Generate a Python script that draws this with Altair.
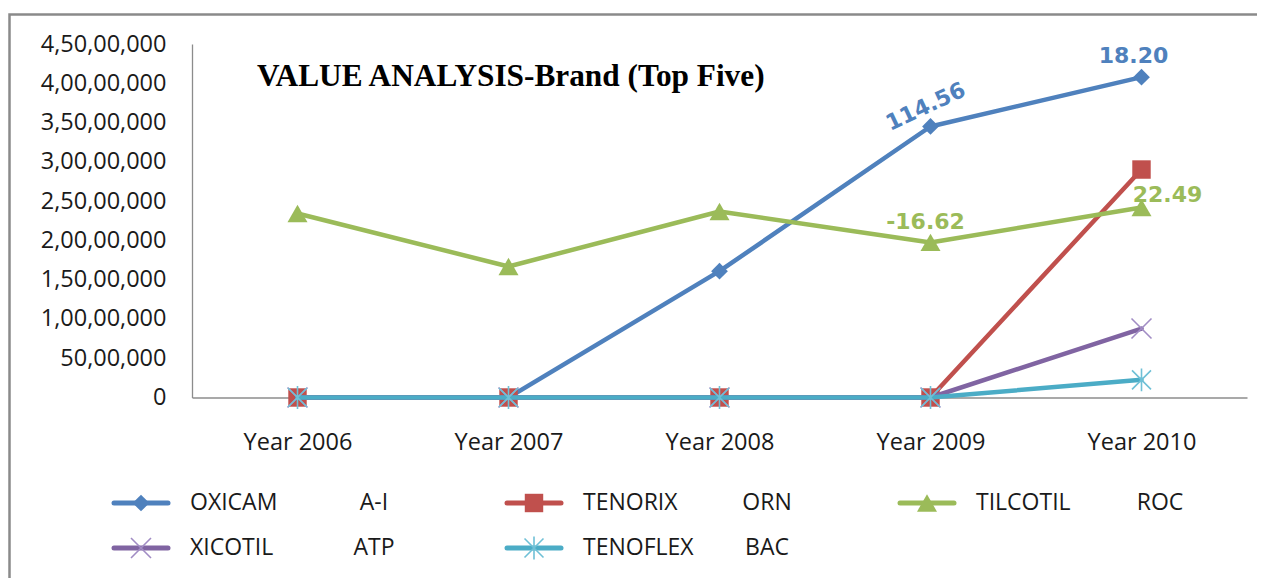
import altair as alt
import pandas as pd

# ---------------- data ----------------
years = ["Year 2006", "Year 2007", "Year 2008", "Year 2009", "Year 2010"]
brands = ["OXICAM", "TENORIX", "TILCOTIL", "XICOTIL", "TENOFLEX"]
companies = ["A-I", "ORN", "ROC", "ATP", "BAC"]

oxicam = [0, 0, 16080000, 34500000, 40780000]
tenorix = [0, 0, 0, 0, 29020000]
tilcotil = [23420000, 16680000, 23680000, 19740000, 24180000]
xicotil = [0, 0, 0, 0, 8780000]
tenoflex = [0, 0, 0, 0, 2250000]

y_tick_values = [0, 5000000, 10000000, 15000000, 20000000, 25000000,
                 30000000, 35000000, 40000000, 45000000]
y_tick_labels = ["0", "50,00,000", "1,00,00,000", "1,50,00,000", "2,00,00,000",
                 "2,50,00,000", "3,00,00,000", "3,50,00,000", "4,00,00,000",
                 "4,50,00,000"]

# growth labels: (brand, year, text)
growth_brand = ["OXICAM", "OXICAM", "TILCOTIL", "TILCOTIL"]
growth_year = ["Year 2009", "Year 2010", "Year 2009", "Year 2010"]
growth_text = ["114.56", "18.20", "-16.62", "22.49"]

title_text = "VALUE ANALYSIS-Brand (Top Five)"

# ---------------- tables ----------------
series_values = [oxicam, tenorix, tilcotil, xicotil, tenoflex]
rows = []
for b, vals in zip(brands, series_values):
    for y, v in zip(years, vals):
        rows.append({"year": y, "brand": b, "value": v})
df = pd.DataFrame(rows)

lab_rows = []
for b, y, t in zip(growth_brand, growth_year, growth_text):
    v = series_values[brands.index(b)][years.index(y)]
    lab_rows.append({"year": y, "brand": b, "value": v, "text": t})
lab_df = pd.DataFrame(lab_rows)

leg_df = pd.DataFrame({
    "brand": brands,
    "company": companies,
    "col": [i % 3 for i in range(len(brands))],
    "row": [i // 3 for i in range(len(brands))],
})

# ---------------- styles ----------------
X_PATH = "M-1,-1L1,1M-1,1L1,-1"
STAR_PATH = "M-1,-1L1,1M-1,1L1,-1M0,-1.2L0,1.2"
styles = {
    "OXICAM": dict(color="#4F81BD", shape="diamond", size=280, filled=True, mcolor="#4F81BD"),
    "TENORIX": dict(color="#C0504D", shape="square", size=340, filled=True, mcolor="#C0504D"),
    "TILCOTIL": dict(color="#9BBB59", shape="triangle-up", size=400, filled=True, mcolor="#9BBB59"),
    "XICOTIL": dict(color="#8064A2", shape=X_PATH, size=400, filled=False, mcolor="#A18CC4"),
    "TENOFLEX": dict(color="#4BACC6", shape=STAR_PATH, size=360, filled=False, mcolor="#6FC0D6"),
}
label_style = {
    "114.56": dict(color="#4F81BD", dx=4, dy=-20, angle=335),
    "18.20": dict(color="#4F81BD", dx=-8, dy=-21, angle=0),
    "-16.62": dict(color="#9BBB59", dx=-5, dy=-20, angle=0),
    "22.49": dict(color="#9BBB59", dx=26, dy=-13, angle=0),
}

FONT = "Open Sans"
W, H = 1055, 353.5

label_expr = "[" + ",".join("'" + s + "'" for s in y_tick_labels) + "][round(datum.value / 5000000)]"

x_axis = alt.Axis(title=None, labelAngle=0, ticks=False, tickSize=0,
                  labelPadding=33, labelFont=FONT, labelFontSize=23.5,
                  labelColor="#1a1a1a", domainColor="#8c8c8c",
                  domainWidth=1.3, grid=False, labelOverlap=False)
y_axis = alt.Axis(title=None, values=y_tick_values, tickCount=10, labelExpr=label_expr,
                  ticks=False, tickSize=0, labelPadding=26, grid=False,
                  labelFont=FONT, labelFontSize=23.5, labelColor="#1a1a1a",
                  domainColor="#8c8c8c", domainWidth=1.3,
                  labelOverlap=False, labelBound=False, labelFlush=False)
x_enc = alt.X("year:N", scale=alt.Scale(type="point", padding=0.5, domain=years), axis=x_axis)
y_enc = alt.Y("value:Q", scale=alt.Scale(domain=[0, 45000000], nice=False, zero=True), axis=y_axis)

layers = []

# outer frame
frame = alt.Chart(alt.Data(values=[{"k": 1}])).mark_rect(
    fillOpacity=0, stroke="#8a8a8a", strokeWidth=2.5
).encode(x=alt.value(-182.5), x2=alt.value(1300), y=alt.value(-29.5), y2=alt.value(700))
layers.append(frame)

base = alt.Chart(df)
for b in brands:
    st = styles[b]
    sub = base.transform_filter(alt.datum.brand == b)
    line = sub.mark_line(color=st["color"], strokeWidth=4.5, strokeCap="round",
                         strokeJoin="round").encode(x=x_enc, y=y_enc)
    if st["filled"]:
        pts = sub.mark_point(shape=st["shape"], size=st["size"], filled=True,
                             color=st["mcolor"], opacity=1)
    else:
        pts = sub.mark_point(shape=st["shape"], size=st["size"], filled=False,
                             color=st["mcolor"], opacity=1, strokeWidth=1.6)
    pts = pts.encode(x=x_enc, y=y_enc)
    layers += [line, pts]

for t in growth_text:
    ls = label_style[t]
    lab = alt.Chart(lab_df).transform_filter(alt.datum.text == t).mark_text(
        font="DejaVu Sans", fontWeight="bold", fontSize=22, color=ls["color"],
        dx=ls["dx"], dy=ls["dy"], angle=ls["angle"], align="center", baseline="middle"
    ).encode(x=x_enc, y=y_enc, text="text:N")
    layers.append(lab)

title = alt.Chart(alt.Data(values=[{"t": title_text}])).mark_text(
    font="Liberation Serif", fontWeight="bold", fontSize=31.3, color="#000000",
    align="left", baseline="alphabetic"
).encode(x=alt.value(65), y=alt.value(42), text="t:N")
layers.append(title)

main = alt.layer(*layers)

# ---------------- legend ----------------
lx = alt.X("col:Q", scale=alt.Scale(domain=[0, 2], range=[-51, 735]), axis=None)
ly = alt.Y("row:Q", scale=alt.Scale(domain=[0, 1], range=[459, 504]), axis=None)
leg_base = alt.Chart(leg_df)
leg_layers = []
for b in brands:
    st = styles[b]
    sub = leg_base.transform_filter(alt.datum.brand == b)
    rule = sub.mark_rule(color=st["color"], strokeWidth=5, strokeCap="round",
                         xOffset=-27, x2Offset=27).encode(x=lx, x2=alt.X2("col"), y=ly)
    if st["filled"]:
        pt = sub.mark_point(shape=st["shape"], size=st["size"], filled=True,
                            color=st["mcolor"], opacity=1)
    else:
        pt = sub.mark_point(shape=st["shape"], size=st["size"], filled=False,
                            color=st["mcolor"], opacity=1, strokeWidth=1.6)
    pt = pt.encode(x=lx, y=ly)
    leg_layers += [rule, pt]

brand_txt = leg_base.mark_text(font=FONT, fontSize=23, color="#1a1a1a", align="left",
                               baseline="middle", dx=49).encode(x=lx, y=ly, text="brand:N")
comp_txt = leg_base.mark_text(font=FONT, fontSize=23, color="#1a1a1a", align="center",
                              baseline="middle", dx=233).encode(x=lx, y=ly, text="company:N")
leg_layers += [brand_txt, comp_txt]
legend = alt.layer(*leg_layers)

chart = alt.layer(main, legend).resolve_scale(x="independent", y="independent").properties(
    width=W, height=H,
    autosize=alt.AutoSizeParams(type="none"),
    padding={"left": 184, "top": 36, "right": 10, "bottom": 180},
    background="white",
).configure_view(stroke=None)

chart.save("out.html", embed_options={"renderer": "svg", "actions": False})
